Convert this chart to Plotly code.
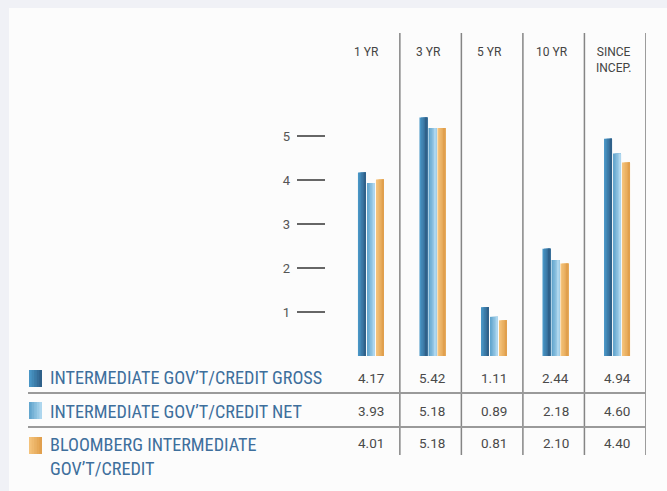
import plotly.graph_objects as go

# ---------------- data ----------------
periods = ["1 YR", "3 YR", "5 YR", "10 YR", "SINCE INCEP."]
header_labels = ["1 YR", "3 YR", "5 YR", "10 YR", "SINCE<br>INCEP."]
series_names = [
    "INTERMEDIATE GOV\u2019T/CREDIT GROSS",
    "INTERMEDIATE GOV\u2019T/CREDIT NET",
    "BLOOMBERG INTERMEDIATE<br>GOV\u2019T/CREDIT",
]
gross = [4.17, 5.42, 1.11, 2.44, 4.94]
net = [3.93, 5.18, 0.89, 2.18, 4.60]
bloomberg = [4.01, 5.18, 0.81, 2.10, 4.40]
y_ticks = [1, 2, 3, 4, 5]

series_values = [gross, net, bloomberg]
# left -> right gradient colours of each series
series_grad = [("#4c9bcc", "#2c5b83"), ("#5aa0ca", "#b6dcf2"), ("#f6c67f", "#df9c48")]

# ---------------- layout helpers ----------------
W, H = 667, 491
PL, PR, PT, PB = 297, 646, 33, 356   # plot area in pixels
XR = (-1.202, 4.471)
PXU = (PR - PL) / (XR[1] - XR[0])     # pixels per category unit
PYU = 44.0                            # pixels per y unit


def xp(px):
    return (px - PL) / (PR - PL)


def yp(py):
    return (PB - py) / (PB - PT)


def mix(c1, c2, t):
    a = [int(c1[i:i + 2], 16) for i in (1, 3, 5)]
    b = [int(c2[i:i + 2], 16) for i in (1, 3, 5)]
    return "#" + "".join(f"{round(x + (y - x) * t):02x}" for x, y in zip(a, b))


LABEL_FONT = "Liberation Sans Narrow, Arial Narrow, Roboto Condensed, Roboto, sans-serif"
NUM_FONT = "Roboto, Lato, sans-serif"

NSTRIPE = 5
BAR_PX, SLOT_PX = 8.0, 9.0
group_px = SLOT_PX * len(series_values)

fig = go.Figure()
xs = list(range(len(periods)))
for s, (name, vals, (c1, c2)) in enumerate(zip(series_names, series_values, series_grad)):
    left_px = -group_px / 2 + s * SLOT_PX + (SLOT_PX - BAR_PX) / 2
    step_px = BAR_PX / NSTRIPE
    for k in range(NSTRIPE):
        w_px = BAR_PX - k * step_px
        fig.add_trace(go.Bar(
            x=xs, y=vals, name=name.replace("<br>", " "),
            offset=(left_px + k * step_px) / PXU, width=w_px / PXU,
            marker=dict(color=mix(c1, c2, (k + 0.5) / NSTRIPE), line=dict(width=0)),
            hoverinfo="skip", showlegend=False,
        ))

shapes = []
# column separators
for i in xs:
    shapes.append(dict(type="line", xref="x", yref="paper",
                       x0=i + 0.47, x1=i + 0.47, y0=yp(455), y1=1,
                       line=dict(color="#858585", width=1.5)))
# table row lines
for py in [393, 427]:
    shapes.append(dict(type="line", xref="paper", yref="paper",
                       x0=xp(28), x1=xp(646), y0=yp(py), y1=yp(py),
                       line=dict(color="#9a9a9a", width=2)))
# legend swatches (gradient strips)
for (top, bot), (c1, c2) in zip([(370, 387), (402, 419), (437, 454)], series_grad):
    sw_l, sw_w = 29.0, 13.0
    for k in range(NSTRIPE):
        shapes.append(dict(type="rect", xref="paper", yref="paper",
                           x0=xp(sw_l + k * sw_w / NSTRIPE), x1=xp(sw_l + sw_w),
                           y0=yp(bot), y1=yp(top),
                           fillcolor=mix(c1, c2, (k + 0.5) / NSTRIPE), line=dict(width=0)))

annotations = []
# column headers
for i, lab in zip(xs, header_labels):
    annotations.append(dict(x=i, xref="x", y=yp(43), yref="paper",
                            text=lab, showarrow=False, xanchor="center", yanchor="top",
                            xshift=-4, align="center",
                            font=dict(family=NUM_FONT, size=12, color="#444444")))
# table values
row_y = [377.5, 410.5, 442.5]
for vals, ry in zip(series_values, row_y):
    for i, v in zip(xs, vals):
        annotations.append(dict(x=i, xref="x", y=yp(ry), yref="paper",
                                text=f"{v:.2f}", showarrow=False,
                                xanchor="center", yanchor="middle",
                                font=dict(family=NUM_FONT, size=13.5, color="#4a4a4a")))
# legend labels
label_y = [378, 411, 456.5]
for name, ly in zip(series_names, label_y):
    annotations.append(dict(x=xp(48), xref="paper", y=yp(ly), yref="paper",
                            text=name, showarrow=False, xanchor="left", yanchor="middle",
                            align="left",
                            font=dict(family=LABEL_FONT, size=18.2, color="#3e6f9c")))

fig.update_layout(
    width=W, height=H,
    margin=dict(l=PL, r=W - PR, t=PT, b=H - PB, pad=0),
    paper_bgcolor="#f0f1f6",
    plot_bgcolor="#fcfcfc",
    showlegend=False,
    barmode="overlay",
    xaxis=dict(range=list(XR), showticklabels=False, ticks="",
               showgrid=False, zeroline=False, showline=False, fixedrange=True),
    yaxis=dict(range=[0, (PB - PT) / PYU], tickvals=y_ticks,
               ticks="inside", ticklen=28, tickwidth=1.5, tickcolor="#666666",
               ticklabelstandoff=6,
               tickfont=dict(family=NUM_FONT, size=13, color="#555555"),
               showgrid=False, zeroline=False, showline=False, fixedrange=True),
    shapes=shapes,
    annotations=annotations,
)

# white content panel, drawn beneath everything
fig.add_shape(type="rect", xref="paper", yref="paper",
              x0=xp(9), x1=xp(W + 5), y0=yp(H + 5), y1=yp(8),
              fillcolor="#fcfcfc", line=dict(width=0), layer="below")

fig.write_html("out.html", config={"displayModeBar": False},
               post_script="document.body.style.margin='0';")
